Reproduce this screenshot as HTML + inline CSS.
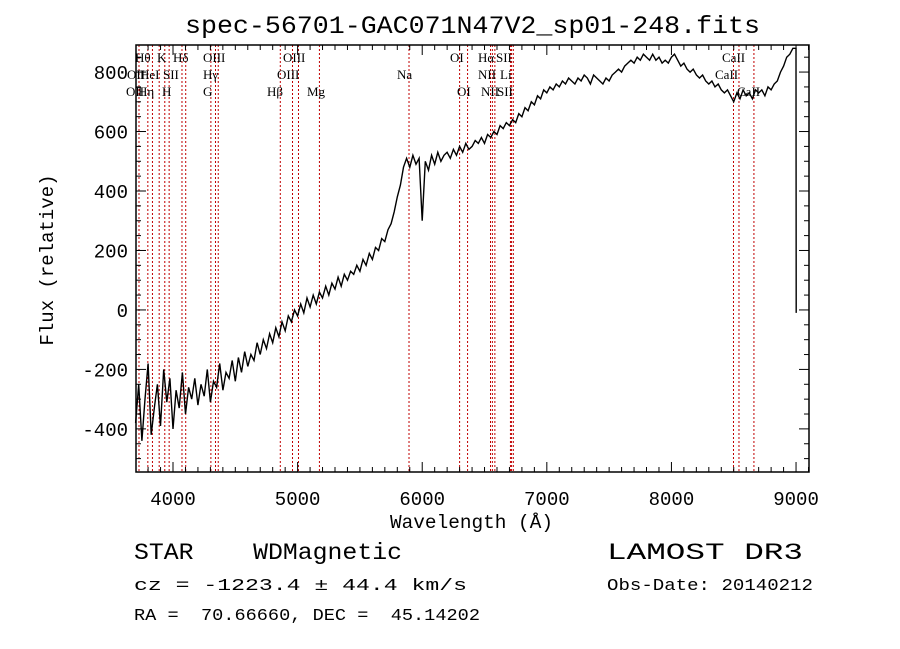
<!DOCTYPE html>
<html><head><meta charset="utf-8"><style>
body{margin:0;background:#fff;width:900px;height:649px;overflow:hidden}
svg{display:block}
.mono{font-family:"Liberation Mono","DejaVu Sans Mono",monospace;fill:#000;white-space:pre}
.ser{font-family:"Liberation Serif",serif;font-size:13px;fill:#000}
</style></head><body>
<svg id="chart" width="900" height="649">
<text class="mono" x="185" y="33" font-size="25" textLength="575" lengthAdjust="spacingAndGlyphs">spec-56701-GAC071N47V2_sp01-248.fits</text>
<g id="lines"></g>
<g id="labels"></g>
<g id="spec"></g>
<g id="axes"></g>
<text class="mono" x="390" y="528" font-size="19" textLength="163" lengthAdjust="spacingAndGlyphs">Wavelength (Å)</text>
<text class="mono" x="0" y="0" font-size="19" text-anchor="middle" transform="translate(53,260) rotate(-90)">Flux (relative)</text>
<text class="mono" x="134" y="559" font-size="23" textLength="268" lengthAdjust="spacingAndGlyphs" xml:space="preserve">STAR    WDMagnetic</text>
<text class="mono" x="607" y="559" font-size="23" textLength="196" lengthAdjust="spacingAndGlyphs">LAMOST DR3</text>
<text class="mono" x="134" y="590" font-size="17" textLength="333" lengthAdjust="spacingAndGlyphs">cz = -1223.4 ± 44.4 km/s</text>
<text class="mono" x="607" y="590" font-size="17" textLength="206" lengthAdjust="spacingAndGlyphs">Obs-Date: 20140212</text>
<text class="mono" x="134" y="620" font-size="17" textLength="346" lengthAdjust="spacingAndGlyphs" xml:space="preserve">RA =  70.66660, DEC =  45.14202</text>
</svg>
<script>
const specStart = 3700, specStep = 25;
const flux = [
-380,-250,-440,-300,-180,-420,-330,-250,-390,-200,
-310,-230,-400,-270,-330,-210,-350,-260,-300,-230,
-320,-250,-290,-200,-310,-240,-260,-180,-270,-210,
-230,-170,-240,-160,-210,-140,-190,-150,-170,-110,
-150,-100,-130,-80,-110,-60,-90,-40,-70,-20,
-40,0,-20,20,-10,40,10,50,20,60,
40,80,50,90,70,110,80,120,100,130,
120,150,130,170,150,190,170,210,200,240,
230,270,290,330,380,420,480,510,480,520,
490,510,300,500,470,520,490,530,500,520,
530,510,540,520,550,530,560,540,550,570,
560,580,560,590,580,600,590,620,610,630,
620,640,630,660,650,680,670,700,690,720,
710,740,730,750,740,760,750,770,760,780,
770,760,780,770,790,780,760,790,780,770,
760,780,770,790,800,810,800,820,830,840,
830,850,840,860,850,840,860,840,850,830,
840,830,850,860,840,820,830,810,800,810,
790,780,790,770,760,770,750,760,740,730,
740,720,700,730,710,740,720,730,710,740,
730,740,720,750,740,760,770,800,820,850,
860,880];
const tailWaves = [9000, 9001];
const tailFlux = [880, -10];
const lineWaves = [3727,3798,3835,3889,3934,3969,4072,4102,4304,4341,4363,4861,4959,5007,5175,5894,6300,6364,6548,6563,6583,6708,6717,6731,8498,8542,8662];
const lineLabels = [
 ["Hθ",135,62],["K",157,62],["Hδ",173,62],["OIII",203,62],["OIII",283,62],
 ["OII",127,79],["HeI",140,79],["SII",163,79],["Hγ",203,79],["OIII",277,79],["Na",397,79],
 ["OII",126,96],["Hη",138,96],["H",162,96],["G",203,96],["Hβ",267,96],["Mg",307,96],
 ["OI",450,62],["Hα",478,62],["SII",496,62],["CaII",722,62],
 ["NII",478,79],["Li",500,79],["CaII",715,79],
 ["OI",457,96],["NII",481,96],["SII",497,96],["CaII",737,96]];
const xTicks = [4000,5000,6000,7000,8000,9000];
const yTicks = [-400,-200,0,200,400,600,800];

const L=136,R=809,T=45,B=472, X0=3703, X1=9104, Y0=-545, Y1=891;
const sx=w=>L+(w-X0)/(X1-X0)*(R-L);
const sy=v=>B-(v-Y0)/(Y1-Y0)*(B-T);
const NS="http://www.w3.org/2000/svg";
function mk(t,a,p){const e=document.createElementNS(NS,t);for(const k in a)e.setAttribute(k,a[k]);p.appendChild(e);return e;}

const gl=document.getElementById('lines');
lineWaves.forEach(w=>{
 const e=mk('line',{x1:sx(w),x2:sx(w),y1:T,y2:B,stroke:'#c00000','stroke-width':1,'stroke-dasharray':'2,2'},gl);
 
 
});
const glab=document.getElementById('labels');
lineLabels.forEach(l=>{
 const e=mk('text',{x:l[1],y:l[2],class:'ser'},glab);e.textContent=l[0];
 
 
});
let pts=flux.map((v,i)=>sx(specStart+i*specStep).toFixed(1)+','+sy(v).toFixed(1));
tailWaves.forEach((w,i)=>pts.push(sx(w).toFixed(1)+','+sy(tailFlux[i]).toFixed(1)));
const sp=mk('polyline',{points:pts.join(' '),fill:'none',stroke:'#000','stroke-width':1.4},document.getElementById('spec'));



const ga=document.getElementById('axes');
const fr=mk('rect',{x:L,y:T,width:R-L,height:B-T,fill:'none',stroke:'#000','stroke-width':1.5},ga);


for(let w=3800;w<=9100;w+=100){
 const maj=w%1000===0, len=maj?10:5, x=sx(w);
 mk('line',{x1:x,x2:x,y1:B,y2:B-len,stroke:'#000'},ga);
 mk('line',{x1:x,x2:x,y1:T,y2:T+len,stroke:'#000'},ga);
}
for(let v=-500;v<=850;v+=50){
 const maj=v%200===0, len=maj?10:5, y=sy(v);
 mk('line',{x1:L,x2:L+len,y1:y,y2:y,stroke:'#000'},ga);
 mk('line',{x1:R,x2:R-len,y1:y,y2:y,stroke:'#000'},ga);
}
xTicks.forEach(w=>{
 const e=mk('text',{x:sx(w),y:505,'text-anchor':'middle',class:'mono','font-size':19},ga);e.textContent=w;
 
 
});
yTicks.forEach(v=>{
 const e=mk('text',{x:128,y:sy(v)+7,'text-anchor':'end',class:'mono','font-size':19},ga);e.textContent=v;
 
 
});
</script>
</body></html>
